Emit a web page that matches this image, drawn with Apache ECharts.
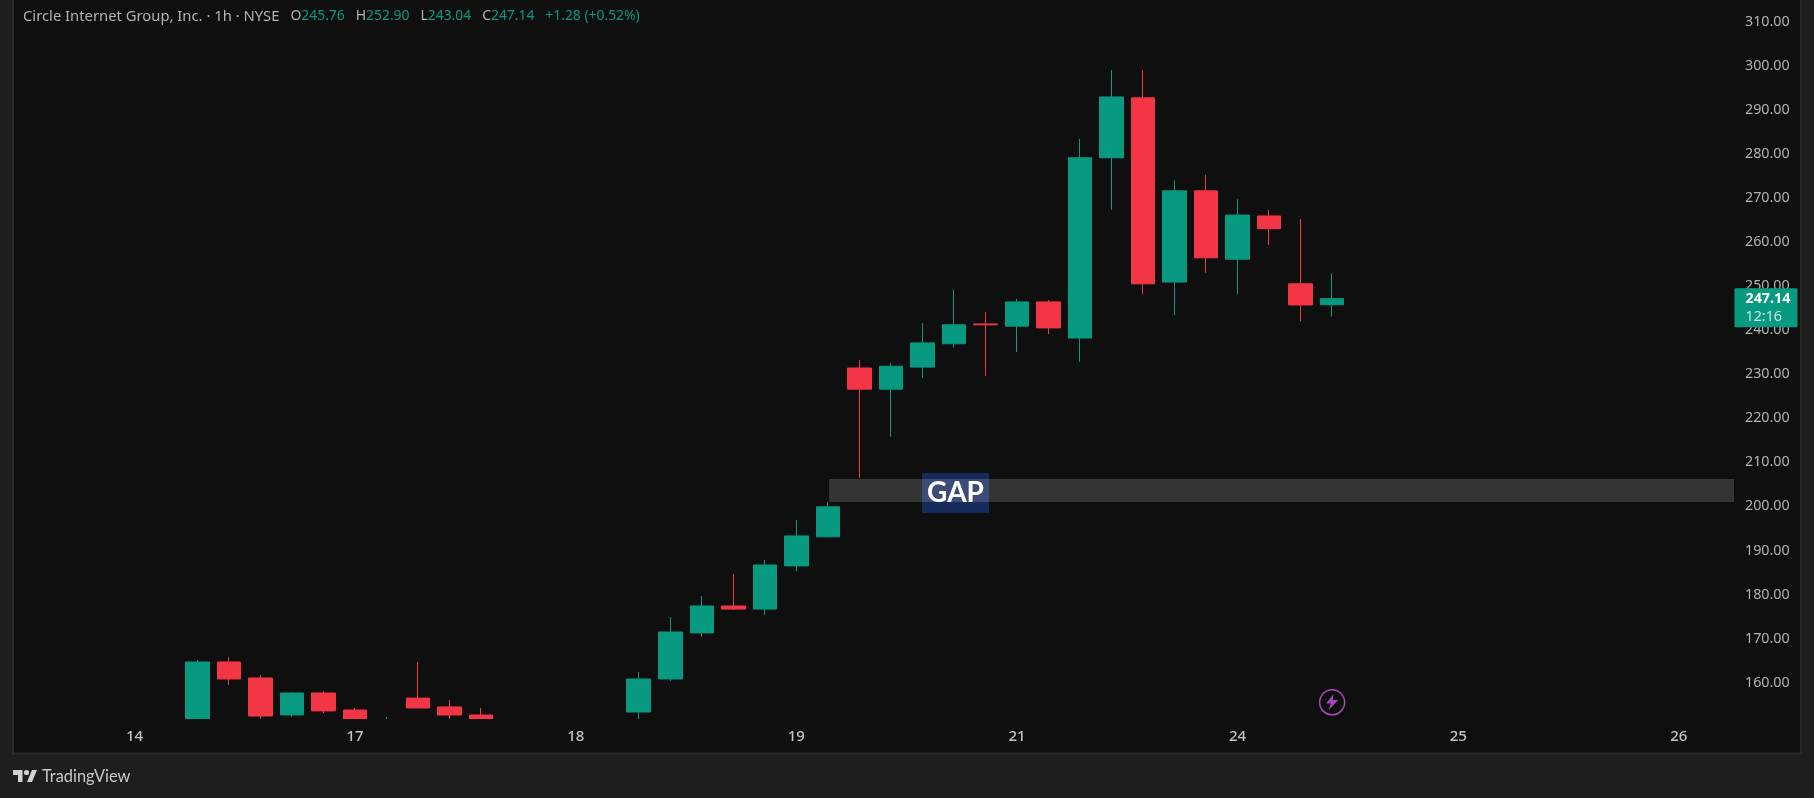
<!DOCTYPE html>
<html>
<head>
<meta charset="utf-8">
<title>Circle Internet Group, Inc.</title>
<script src="https://cdn.jsdelivr.net/npm/echarts@6/dist/echarts.min.js"></script>
<style>
    html, body { margin: 0; padding: 0; background: #1e1e1e; }
    #chart { width: 1814px; height: 798px; }
</style>
</head>
<body>
<div id="chart"></div>
<script>
/* 数据: bar slots on the time axis, 10-13 sit below the visible price range */
let slots = [0, 1, 2, 3, 4, 5, 6, 7, 8, 9, 14, 15, 16, 17, 18, 19, 20, 21, 22, 23, 24, 25, 26, 27, 28, 29, 30, 31, 32, 33, 34, 35, 36];
let opens = [151.0, 164.7, 161.07, 152.67, 157.66, 153.8, 149.0, 156.5, 154.5, 152.67, 153.35, 160.84, 171.3, 177.4, 176.7, 186.5, 193.1, 231.4, 226.6, 231.6, 236.9, 241.4, 240.9, 246.4, 238.2, 279.1, 292.7, 250.9, 271.6, 256.1, 265.9, 250.5, 245.76];
let closes = [164.7, 160.84, 152.44, 157.66, 153.6, 151.2, 151.0, 154.26, 152.67, 151.2, 160.84, 171.5, 177.4, 176.7, 186.7, 193.3, 199.9, 226.6, 231.8, 237.1, 241.2, 241.2, 246.4, 240.5, 279.1, 292.9, 250.5, 271.6, 256.4, 266.1, 263.0, 245.7, 247.14];
let lows = [150.5, 159.5, 151.8, 152.2, 153.1, 150.8, 148.0, 154.2, 151.76, 150.8, 151.76, 160.4, 170.4, 176.5, 175.4, 185.3, 193.0, 206.5, 215.8, 229.1, 236.0, 229.6, 235.0, 239.1, 232.8, 267.3, 248.2, 243.4, 253.0, 248.2, 259.3, 242.0, 243.04];
let highs = [165.15, 165.8, 161.75, 157.9, 158.1, 154.26, 152.2, 164.7, 156.07, 154.26, 162.4, 174.9, 179.7, 184.66, 187.85, 196.9, 201.0, 233.2, 232.5, 241.6, 249.1, 244.1, 247.1, 246.8, 283.4, 299.0, 299.0, 274.0, 275.2, 269.7, 267.3, 265.2, 252.9];

let dayTicks = [-2, 5, 12, 19, 26, 33, 40, 47];
let dayLabels = ['14', '17', '18', '19', '21', '24', '25', '26'];
let priceTicks = [160, 170, 180, 190, 200, 210, 220, 230, 240, 250, 260, 270, 280, 290, 300, 310];

let gapTop = 206.2, gapBottom = 201;
let lastPrice = 247.14;

drawChart();

function drawChart() {
    let upColor = '#089981', downColor = '#f23645', textColor = '#b2b2b2', font = '"Noto Sans"';
    let xMin = -5.822, xMax = 48.75;

    let candles = slots.map(function (slot, i) {
        return [slot, opens[i], closes[i], lows[i], highs[i]];
    });

    let myChart = echarts.init(document.getElementById('chart'));
    let options = {
        animation: false,
        backgroundColor: '#1e1e1e',
        textStyle: { fontFamily: font },
        title: {
            left: 23,
            top: 9,
            padding: 0,
            text: '{n|Circle Internet Group, Inc. · 1h · NYSE}{l|   O}{v|245.76}{l|   H}{v|252.90}{l|   L}{v|243.04}{l|   C}{v|247.14}{v|   +1.28 (+0.52%)}',
            textStyle: {
                fontWeight: 'normal',
                rich: {
                    n: { color: textColor, fontFamily: font, fontSize: 14.8, fontWeight: 'normal' },
                    l: { color: textColor, fontFamily: font, fontSize: 14, fontWeight: 'normal' },
                    v: { color: upColor, fontFamily: font, fontSize: 13.9, fontWeight: 'normal' }
                }
            }
        },
        graphic: [
            { type: 'rect', z: -1, shape: { x: 13, y: -2, width: 1788, height: 755.5 }, style: { fill: '#0f0f0f', stroke: '#2a2a2a', lineWidth: 2 } },
            /* candles below the visible price range end at the time scale */
            { type: 'rect', z: 3, shape: { x: 14, y: 719, width: 1720, height: 33 }, style: { fill: '#0f0f0f' } },
            /* TradingView logo */
            { type: 'polygon', shape: { points: [[13, 770], [22.5, 770], [22.5, 782], [18, 782], [18, 775], [13, 775]] }, style: { fill: '#d1d1d1' } },
            { type: 'circle', shape: { cx: 26.5, cy: 772.5, r: 2.6 }, style: { fill: '#d1d1d1' } },
            { type: 'polygon', shape: { points: [[32, 770], [37, 770], [32, 782], [27, 782]] }, style: { fill: '#d1d1d1' } },
            { type: 'text', x: 42, y: 777, style: { text: 'TradingView', fill: '#c8c8c8', font: '16.4px Lato', textVerticalAlign: 'middle' } }
        ],
        grid: { left: 14, top: 0, width: 1720, height: 719 },
        xAxis: {
            type: 'value',
            z: 4,
            min: xMin,
            max: xMax,
            axisLine: { show: false },
            axisTick: { show: false },
            splitLine: { show: false },
            axisLabel: {
                customValues: dayTicks,
                margin: 10,
                color: '#c4c4c4',
                fontFamily: font,
                fontSize: 15,
                fontWeight: 500,
                formatter: function (v) { return dayLabels[dayTicks.indexOf(v)]; }
            }
        },
        yAxis: {
            type: 'value',
            position: 'right',
            min: 151.76,
            max: 314.9,
            axisLine: { show: false },
            axisTick: { show: false },
            splitLine: { show: false },
            axisLabel: {
                customValues: priceTicks,
                margin: 11,
                color: textColor,
                fontFamily: font,
                fontSize: 14.3,
                formatter: function (v) { return v.toFixed(2); }
            }
        },
        series: [
            {
                name: 'GAP label',
                type: 'scatter',
                data: [],
                markPoint: {
                    z: 0,
                    silent: true,
                    data: [{
                        coord: [24.05, 203.05],
                        symbol: 'rect',
                        symbolSize: [67, 40],
                        itemStyle: { color: '#172a5c' },
                        label: { show: true, position: 'inside', formatter: 'GAP', color: '#ffffff', fontFamily: 'Lato', fontWeight: 'bold', fontSize: 28 }
                    }]
                }
            },
            {
                name: 'CRCL',
                type: 'candlestick',
                barWidth: 24,
                data: candles,
                itemStyle: {
                    color: upColor,
                    color0: downColor,
                    borderColor: upColor,
                    borderColor0: downColor,
                    borderWidth: 1
                },
                markArea: {
                    z: 1,
                    silent: true,
                    itemStyle: { color: 'rgba(255, 255, 255, 0.16)' },
                    data: [[{ coord: [20.04, gapTop] }, { coord: [xMax, gapBottom] }]]
                },
                markPoint: {
                    silent: true,
                    data: [
                        {
                            coord: [36, 155.55],
                            symbol: 'circle',
                            symbolSize: 25,
                            itemStyle: { color: 'transparent', borderColor: '#ab47bc', borderWidth: 1.5 },
                            label: { show: false }
                        },
                        {
                            coord: [36, 155.55],
                            symbol: 'path://M6 0L0 8h4L2 14l8-9H5.5z',
                            symbolSize: [12, 16],
                            itemStyle: { color: '#ab47bc' },
                            label: { show: false }
                        },
                        {
                            coord: [xMax, lastPrice],
                            symbol: 'circle',
                            symbolSize: 1,
                            itemStyle: { color: 'transparent' },
                            label: {
                                show: true,
                                position: 'right',
                                distance: 0,
                                offset: [0, 9],
                                formatter: '{p|' + lastPrice.toFixed(2) + '}\n{t|12:16}',
                                backgroundColor: upColor,
                                borderRadius: 1,
                                padding: [2, 0, 1, 11],
                                width: 52,
                                align: 'left',
                                rich: {
                                    p: { color: '#ffffff', fontFamily: font, fontWeight: 'bold', fontSize: 14.3, lineHeight: 18 },
                                    t: { color: '#c4e8e0', fontFamily: font, fontSize: 14.3, lineHeight: 18 }
                                }
                            }
                        }
                    ]
                }
            }
        ]
    };
    myChart.setOption(options);
}
</script>
</body>
</html>
